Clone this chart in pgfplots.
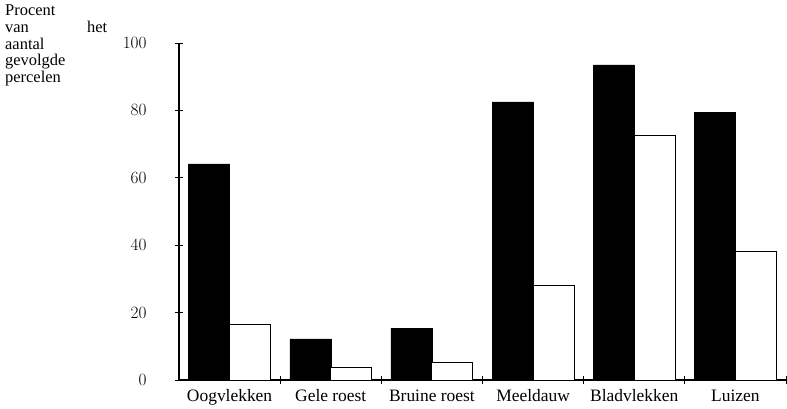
\documentclass[border=0pt]{standalone}
\usepackage{fontspec}
\setmainfont{Liberation Serif}
\usepackage{pgfplots}
\pgfplotsset{compat=1.18}
\begin{document}
\begin{tikzpicture}[x=1bp,y=1bp]
\path[use as bounding box] (0,0) rectangle (787,408);
\node[anchor=north west, inner sep=0pt, align=left, font=\fontsize{16.5}{16.7}\selectfont] at (5,403)
  {Procent\\\hbox to 102bp{van\hfill het}\\aantal\\gevolgde\\percelen};
\begin{axis}[
  at={(179bp,28bp)}, anchor=south west,
  width=607bp, height=337bp, scale only axis,
  xmin=-0.5, xmax=5.5, ymin=0, ymax=100,
  axis x line=bottom, axis y line=left,
  axis line style={-, line width=1.1bp},
  ybar, bar width=41bp,
  ytick={0,20,...,100},
  xtick={0.5,1.5,...,5.5}, xticklabels={},
  extra x ticks={0,1,2,3,4,5},
  extra x tick labels={Oogvlekken,Gele roest,Bruine roest,Meeldauw,Bladvlekken,Luizen},
  extra x tick style={major tick length=0pt},
  tick align=center, major tick length=8bp,
  tick style={black, line width=0.9bp},
  tick label style={font=\fontsize{17.5}{19}\selectfont},
  yticklabel style={xshift=-25bp},
  xticklabel style={yshift=-6bp},
]
\addplot[fill=black, draw=black, bar shift=-20.5bp] coordinates
  {(0,64.1) (1,12.2) (2,15.4) (3,82.5) (4,93.5) (5,79.5)};
\addplot[fill=white, draw=black, line width=0.9bp, bar shift=20.5bp] coordinates
  {(0,16.6) (1,3.6) (2,5.3) (3,28.2) (4,72.7) (5,38.0)};
\end{axis}
\end{tikzpicture}
\end{document}
